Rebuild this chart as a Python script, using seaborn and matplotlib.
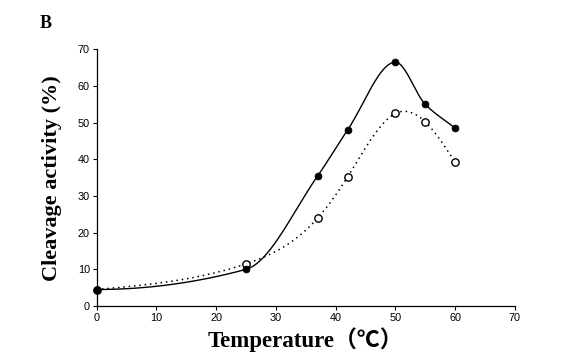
import numpy as np
import pandas as pd
import matplotlib
matplotlib.use("Agg")
import matplotlib.pyplot as plt
import seaborn as sns

temperature = [0, 25, 37, 42, 50, 55, 60]
filled_activity = [4.5, 10.0, 35.5, 48.0, 66.5, 55.0, 48.5]
open_activity = [4.5, 11.5, 24.0, 35.2, 52.5, 50.2, 39.2]
x_ticks = [0, 10, 20, 30, 40, 50, 60, 70]
y_ticks = [0, 10, 20, 30, 40, 50, 60, 70]


def natural_spline(x, y, n=300):
    x = np.asarray(x, float)
    y = np.asarray(y, float)
    k = len(x)
    h = np.diff(x)
    A = np.zeros((k, k))
    b = np.zeros(k)
    A[0, 0] = 1
    A[-1, -1] = 1
    for i in range(1, k - 1):
        A[i, i - 1] = h[i - 1]
        A[i, i] = 2 * (h[i - 1] + h[i])
        A[i, i + 1] = h[i]
        b[i] = 3 * ((y[i + 1] - y[i]) / h[i] - (y[i] - y[i - 1]) / h[i - 1])
    c = np.linalg.solve(A, b)
    xs = np.linspace(x[0], x[-1], n)
    ys = np.empty_like(xs)
    for j, xv in enumerate(xs):
        i = min(np.searchsorted(x, xv, side="right") - 1, k - 2)
        dx = xv - x[i]
        bi = (y[i + 1] - y[i]) / h[i] - h[i] * (2 * c[i] + c[i + 1]) / 3
        di = (c[i + 1] - c[i]) / (3 * h[i])
        ys[j] = y[i] + bi * dx + c[i] * dx ** 2 + di * dx ** 3
    return xs, ys


def pchip(x, y, n=300):
    x = np.asarray(x, float)
    y = np.asarray(y, float)
    h = np.diff(x)
    d = np.diff(y) / h
    k = len(x)
    m = np.zeros(k)
    for i in range(1, k - 1):
        if d[i - 1] * d[i] <= 0:
            m[i] = 0.0
        else:
            w1 = 2 * h[i] + h[i - 1]
            w2 = h[i] + 2 * h[i - 1]
            m[i] = (w1 + w2) / (w1 / d[i - 1] + w2 / d[i])
    m[0] = 0.0
    m[-1] = d[-1]
    xs = np.linspace(x[0], x[-1], n)
    ys = np.empty_like(xs)
    for j, xv in enumerate(xs):
        i = min(np.searchsorted(x, xv, side="right") - 1, k - 2)
        t = (xv - x[i]) / h[i]
        h00 = 2 * t ** 3 - 3 * t ** 2 + 1
        h10 = t ** 3 - 2 * t ** 2 + t
        h01 = -2 * t ** 3 + 3 * t ** 2
        h11 = t ** 3 - t ** 2
        ys[j] = h00 * y[i] + h10 * h[i] * m[i] + h01 * y[i + 1] + h11 * h[i] * m[i + 1]
    return xs, ys


sns.set_style("ticks")
plt.rcParams["text.color"] = "black"
plt.rcParams["axes.labelcolor"] = "black"
fig = plt.figure(figsize=(5.67, 3.59), dpi=100)
ax = fig.add_axes([0.1706, 0.1476, 0.7374, 0.7151])

xs, ys = pchip(temperature, filled_activity)
xo, yo = natural_spline(temperature, open_activity)
sns.lineplot(x=xs, y=ys, ax=ax, color="black", lw=1.0, sort=False)
sns.lineplot(x=xo, y=yo, ax=ax, color="black", lw=1.1, linestyle=(0, (1, 2.5)), sort=False)

df = pd.DataFrame({"t": temperature, "f": filled_activity, "o": open_activity})
sns.scatterplot(data=df, x="t", y="o", ax=ax, s=28, facecolor="white", edgecolor="black", linewidth=1.0, zorder=5)
sns.scatterplot(data=df, x="t", y="f", ax=ax, s=24, color="black", edgecolor="black", linewidth=0.6, zorder=6)

ax.set_xlim(0, 70)
ax.set_ylim(0, 70)
ax.set_xticks(x_ticks)
ax.set_yticks(y_ticks)
ax.tick_params(labelsize=7.8, length=3, width=0.8, pad=2, colors="black")
for lab in ax.get_xticklabels() + ax.get_yticklabels():
    lab.set_family(["Liberation Sans", "DejaVu Sans"])
for s in ["top", "right"]:
    ax.spines[s].set_visible(False)
for s in ["left", "bottom"]:
    ax.spines[s].set_linewidth(0.9)
    ax.spines[s].set_color("black")
ax.margins(0)
for c in ax.collections:
    c.set_clip_on(False)

ax.set_xlabel("Temperature（℃）", fontsize=16.5, fontweight="bold", color="black",
              family=["Liberation Serif", "Noto Sans CJK SC"], labelpad=3)
ax.set_ylabel("Cleavage activity (%)", fontsize=16, fontweight="bold", color="black",
              family=["Liberation Serif", "DejaVu Serif"], labelpad=11)
fig.text(0.07, 0.935, "B", fontsize=13, fontweight="bold", color="black",
         family=["Liberation Serif", "DejaVu Serif"], ha="left", va="center")

fig.savefig("out.png", dpi=100)
